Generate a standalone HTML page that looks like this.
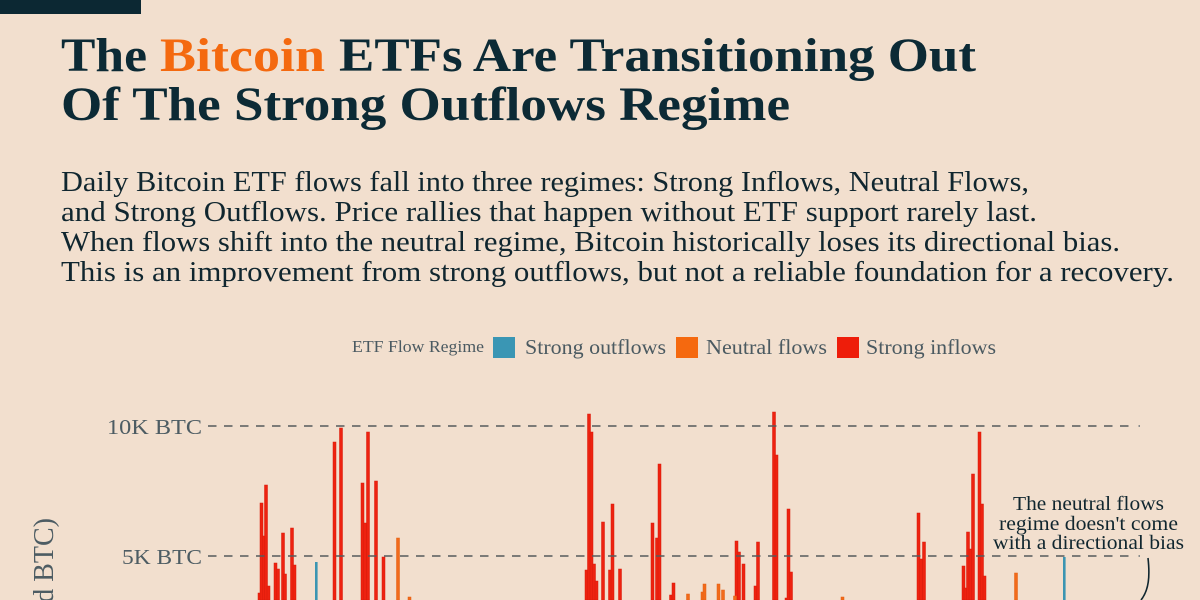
<!DOCTYPE html>
<html><head><meta charset="utf-8"><style>
html,body{margin:0;padding:0;background:#F2DFCE;overflow:hidden;width:1200px;height:600px;}
svg{display:block;overflow:hidden;}
</style></head><body>
<svg width="1200" height="600" viewBox="0 0 1200 600" xmlns="http://www.w3.org/2000/svg">
<defs><clipPath id="c"><rect x="0" y="0" width="1200" height="600"/></clipPath></defs>
<rect width="1200" height="600" fill="#F2DFCE"/>
<rect x="0" y="0" width="141" height="14" fill="#0C2833"/>
<g font-family="Liberation Serif, DejaVu Serif, serif" font-weight="bold" font-size="48" fill="#0C2A35">
<text x="61" y="71" textLength="86" lengthAdjust="spacingAndGlyphs">The</text>
<text x="160" y="71" textLength="165" lengthAdjust="spacingAndGlyphs" fill="#F4690F">Bitcoin</text>
<text x="339" y="71" textLength="637" lengthAdjust="spacingAndGlyphs">ETFs Are Transitioning Out</text>
<text x="61" y="120" textLength="729" lengthAdjust="spacingAndGlyphs">Of The Strong Outflows Regime</text>
</g>
<g font-family="Liberation Serif, DejaVu Serif, serif" font-size="28" fill="#10262F">
<text x="61" y="191" textLength="968" lengthAdjust="spacingAndGlyphs">Daily Bitcoin ETF flows fall into three regimes: Strong Inflows, Neutral Flows,</text>
<text x="61" y="221" textLength="976" lengthAdjust="spacingAndGlyphs">and Strong Outflows. Price rallies that happen without ETF support rarely last.</text>
<text x="61" y="251" textLength="1059" lengthAdjust="spacingAndGlyphs">When flows shift into the neutral regime, Bitcoin historically loses its directional bias.</text>
<text x="61" y="281" textLength="1113" lengthAdjust="spacingAndGlyphs">This is an improvement from strong outflows, but not a reliable foundation for a recovery.</text>
</g>
<!-- legend -->
<g font-family="Liberation Serif, DejaVu Serif, serif" fill="#4B5A61">
<text x="352" y="352" font-size="17" textLength="132" lengthAdjust="spacingAndGlyphs">ETF Flow Regime</text>
<rect x="493" y="337" width="22" height="21" fill="#3A96B4"/>
<text x="525" y="354" font-size="21" textLength="141" lengthAdjust="spacingAndGlyphs">Strong outflows</text>
<rect x="676" y="337" width="22" height="21" fill="#F5690F"/>
<text x="706" y="354" font-size="21" textLength="121" lengthAdjust="spacingAndGlyphs">Neutral flows</text>
<rect x="837" y="337" width="22" height="21" fill="#EE1D0A"/>
<text x="866" y="354" font-size="21" textLength="130" lengthAdjust="spacingAndGlyphs">Strong inflows</text>
</g>
<!-- y axis -->
<g font-family="Liberation Serif, DejaVu Serif, serif" fill="#4D5C63" font-size="21">
<text x="202" y="434" text-anchor="end" textLength="95" lengthAdjust="spacingAndGlyphs">10K BTC</text>
<text x="202" y="564" text-anchor="end" textLength="80" lengthAdjust="spacingAndGlyphs">5K BTC</text>
</g>
<g clip-path="url(#c)">
<text transform="translate(53,518) rotate(-90)" font-family="Liberation Serif, DejaVu Serif, serif" fill="#4D5C63" font-size="28" text-anchor="end">Flows (Signed BTC)</text>
</g>
<!-- bars -->
<g fill="#EE2210" stroke="#D81A0A" stroke-width="0.5">
<rect x="258" y="593" width="3" height="7"/>
<rect x="260" y="503" width="3" height="97"/>
<rect x="262.5" y="536" width="3" height="64"/>
<rect x="264.5" y="485" width="3" height="115"/>
<rect x="267" y="586" width="3" height="14"/>
<rect x="274" y="563" width="3" height="37"/>
<rect x="276.5" y="569" width="3" height="31"/>
<rect x="281.5" y="533" width="3" height="67"/>
<rect x="283.5" y="574" width="3" height="26"/>
<rect x="290.5" y="528" width="3" height="72"/>
<rect x="293" y="565" width="3" height="35"/>
<rect x="333" y="442" width="3" height="158"/>
<rect x="339.5" y="428" width="3" height="172"/>
<rect x="361" y="483" width="3" height="117"/>
<rect x="363.5" y="523" width="3" height="77"/>
<rect x="366.5" y="432" width="3" height="168"/>
<rect x="374.5" y="481" width="3" height="119"/>
<rect x="382" y="557" width="3" height="43"/>
<rect x="585" y="570" width="3" height="30"/>
<rect x="587.5" y="414" width="3" height="186"/>
<rect x="590" y="432" width="3" height="168"/>
<rect x="592.5" y="564" width="3" height="36"/>
<rect x="595" y="581" width="3" height="19"/>
<rect x="601.5" y="522" width="3" height="78"/>
<rect x="608.5" y="570" width="3" height="30"/>
<rect x="611" y="504" width="3" height="96"/>
<rect x="618.5" y="569" width="3" height="31"/>
<rect x="651" y="523" width="3" height="77"/>
<rect x="655.5" y="538" width="3" height="62"/>
<rect x="658" y="464" width="3" height="136"/>
<rect x="669.5" y="595" width="3" height="5"/>
<rect x="672" y="583" width="3" height="17"/>
<rect x="735" y="541" width="3" height="59"/>
<rect x="737.5" y="552" width="3" height="48"/>
<rect x="742" y="564" width="3" height="36"/>
<rect x="754" y="586" width="3" height="14"/>
<rect x="756.5" y="542" width="3" height="58"/>
<rect x="772.5" y="412" width="3" height="188"/>
<rect x="775" y="455" width="3" height="145"/>
<rect x="785" y="598" width="3" height="2"/>
<rect x="787" y="509" width="3" height="91"/>
<rect x="789.5" y="572" width="3" height="28"/>
<rect x="917" y="513" width="3" height="87"/>
<rect x="919.5" y="559" width="3" height="41"/>
<rect x="922.5" y="542" width="3" height="58"/>
<rect x="962" y="566" width="3" height="34"/>
<rect x="964" y="588" width="3" height="12"/>
<rect x="966.5" y="532" width="3" height="68"/>
<rect x="969" y="549" width="3" height="51"/>
<rect x="971.5" y="474" width="3" height="126"/>
<rect x="978" y="432" width="3" height="168"/>
<rect x="980.5" y="504" width="3" height="96"/>
<rect x="983" y="576" width="3" height="24"/>
</g>
<g fill="#F26A1A" stroke="#E25E10" stroke-width="0.5">
<rect x="396.5" y="538" width="3" height="62"/>
<rect x="408" y="597" width="3" height="3"/>
<rect x="686.5" y="594" width="3" height="6"/>
<rect x="701" y="592" width="3" height="8"/>
<rect x="703" y="584" width="3" height="16"/>
<rect x="717" y="584" width="3" height="16"/>
<rect x="721.5" y="590" width="3" height="10"/>
<rect x="733.5" y="596" width="3" height="4"/>
<rect x="841" y="597" width="3" height="3"/>
<rect x="1014.5" y="573" width="3" height="27"/>
</g>
<g fill="#3B95B2">
<rect x="315" y="562" width="2.6" height="38"/>
<rect x="1063" y="557" width="2.6" height="43"/>
</g>
<!-- gridlines -->
<g stroke="#555A5C" stroke-width="1.6" stroke-dasharray="8.5 7.5" fill="none">
<line x1="208" y1="426" x2="1134" y2="426"/>
<line x1="208" y1="556" x2="1134" y2="556"/>
</g>
<g fill="#8A8C8C">
<rect x="1138.5" y="425" width="1.5" height="2"/>
<rect x="1138.5" y="555" width="1.5" height="2"/>
</g>
<!-- annotation -->
<g font-family="Liberation Serif, DejaVu Serif, serif" font-size="20" fill="#10262F">
<text x="1013" y="510" textLength="151" lengthAdjust="spacingAndGlyphs">The neutral flows</text>
<text x="999" y="530" textLength="179" lengthAdjust="spacingAndGlyphs">regime doesn't come</text>
<text x="993" y="549" textLength="191" lengthAdjust="spacingAndGlyphs">with a directional bias</text>
</g>
<path d="M1148,558 C1150,576 1149,590 1141,600" stroke="#10262F" stroke-width="1.6" fill="none"/>
</svg>
</body></html>
